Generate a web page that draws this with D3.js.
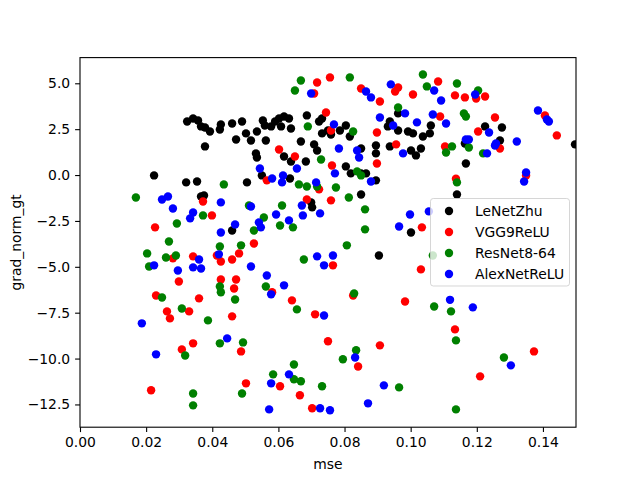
<!DOCTYPE html>
<html>
<head>
<meta charset="utf-8">
<script src="https://cdn.jsdelivr.net/npm/d3@7"></script>
<style>
  body { margin: 0; background: #fff; }
  svg { font-family: "DejaVu Sans", sans-serif; }
</style>
</head>
<body>
<script>
// Data: [mse, grad_norm_gt] per model
const seriesNames = ["LeNetZhu", "VGG9ReLU", "ResNet8-64", "AlexNetReLU"];
const seriesColors = ["#000000", "#ff0000", "#008000", "#0000ff"];

const lenetZhu = [
  [0.0324, 2.92], [0.0342, 3.08], [0.0357, 2.97], [0.0366, 2.65], [0.0378, 1.56], [0.0224, -0.02], [0.0321, -0.40], [0.0354, -0.35], [0.0366, -1.17], [0.0378, 2.59],
  [0.0393, 2.37], [0.0423, 2.48], [0.0426, 2.76], [0.0460, 2.81], [0.0490, 2.92], [0.0472, 1.94], [0.0502, 2.27], [0.0517, 1.88], [0.0535, 2.37], [0.0553, 2.97],
  [0.0559, 2.70], [0.0562, 1.88], [0.0578, 2.65], [0.0590, 2.92], [0.0602, 3.08], [0.0617, 3.19], [0.0632, 3.08], [0.0638, 2.54], [0.0608, 2.65], [0.0532, 1.18],
  [0.0535, 0.96], [0.0668, 1.83], [0.0686, 3.25], [0.0708, 1.67], [0.0717, 1.34], [0.0723, 2.92], [0.0732, 3.08], [0.0732, 2.27], [0.0750, 2.43], [0.0759, 2.21],
  [0.0617, 1.01], [0.0638, 0.74], [0.0683, 0.74], [0.0550, -0.02], [0.0635, -0.19], [0.0505, -0.40], [0.0786, 2.43], [0.0804, 2.70], [0.0816, 2.10], [0.0850, 1.45],
  [0.0895, 1.61], [0.0895, 1.18], [0.0937, 1.56], [0.0937, 2.92], [0.0931, 2.65], [0.0962, 3.36], [0.0962, 2.43], [0.0992, 2.37], [0.1007, 2.27], [0.1001, 1.34],
  [0.1016, 1.07], [0.1031, 1.45], [0.1037, 2.10], [0.1058, 2.27], [0.1061, 2.70], [0.0804, 0.47], [0.0819, 0.09], [0.0850, 0.09], [0.0865, 0.09], [0.0895, -0.29],
  [0.1225, 2.65], [0.1276, 2.59], [0.1270, 1.88], [0.1164, 1.72], [0.1167, 0.63], [0.1497, 1.67], [0.0375, -1.11], [0.0702, -1.76], [0.0699, -1.49], [0.0460, -3.02],
  [0.0850, -1.06], [0.1001, -3.13], [0.0904, -4.38], [0.1140, -1.06]
];

const vgg9ReLU = [
  [0.0717, 5.04], [0.0708, 4.44], [0.0744, 3.41], [0.0602, 1.39], [0.0650, 1.01], [0.0565, -0.29], [0.0756, 5.32], [0.0850, 4.72], [0.0962, 4.77], [0.0953, 4.55],
  [0.0907, 4.01], [0.1007, 4.39], [0.1083, 5.10], [0.1089, 3.19], [0.0759, 2.43], [0.0898, 2.32], [0.0956, 1.67], [0.0898, 0.63], [0.1104, 1.56], [0.0762, 0.52],
  [0.1134, 4.34], [0.1164, 4.23], [0.1198, 4.17], [0.1225, 4.28], [0.1255, 3.14], [0.1204, 2.37], [0.1270, 1.45], [0.1406, 3.25], [0.1442, 2.16], [0.1137, -0.20],
  [0.1349, -0.02], [0.0227, -2.85], [0.0281, -4.54], [0.0342, -4.43], [0.0299, -5.80], [0.0230, -6.56], [0.0360, -6.72], [0.0372, -1.44], [0.0399, -2.20], [0.0686, -1.33],
  [0.0723, -0.78], [0.0526, -3.73], [0.0481, -4.27], [0.0460, -4.60], [0.0426, -4.71], [0.0414, -4.38], [0.0426, -5.69], [0.0472, -5.69], [0.0466, -6.18], [0.0581, -6.39],
  [0.0641, -6.83], [0.0759, -1.38], [0.1034, -2.85], [0.0765, -4.92], [0.1031, -5.14], [0.0983, -6.89], [0.0826, -6.56], [0.0263, -7.43], [0.0272, -7.81], [0.0330, -7.43],
  [0.0342, -9.17], [0.0308, -9.50], [0.0215, -11.73], [0.0460, -7.70], [0.0487, -9.61], [0.0750, -9.06], [0.0711, -7.59], [0.0502, -11.35], [0.0605, -11.51], [0.0665, -12.00],
  [0.0702, -12.71], [0.0907, -9.28], [0.0841, -10.43], [0.1134, -8.41], [0.1373, -9.61], [0.1210, -10.97]
];

const resNet864 = [
  [0.0668, 5.15], [0.0650, 4.61], [0.0689, 2.65], [0.0729, 0.85], [0.0816, 5.32], [0.1037, 5.48], [0.1049, 4.83], [0.0962, 3.68], [0.0826, 2.37], [0.0838, 0.20],
  [0.0850, -0.02], [0.1107, 1.23], [0.1140, 4.99], [0.1204, 4.61], [0.1161, 3.36], [0.1167, 3.19], [0.1125, 1.56], [0.1176, 1.50], [0.1219, 1.18], [0.1140, -0.40],
  [0.0169, -1.22], [0.0293, -2.64], [0.0269, -3.62], [0.0203, -4.27], [0.0260, -4.49], [0.0290, -4.38], [0.0209, -4.98], [0.0248, -6.67], [0.0372, -2.20], [0.0308, -7.27],
  [0.0435, -0.51], [0.0662, -0.51], [0.0686, -0.62], [0.0717, -0.62], [0.0611, -1.66], [0.0556, -2.31], [0.0605, -2.75], [0.0644, -2.85], [0.0526, -3.02], [0.0487, -3.83],
  [0.0423, -3.89], [0.0677, -4.60], [0.0423, -6.07], [0.0426, -6.39], [0.0562, -6.07], [0.0469, -6.78], [0.0511, -1.66], [0.0774, -0.68], [0.0813, -1.22], [0.0862, -1.87],
  [0.0862, -2.96], [0.0807, -3.83], [0.0829, -6.45], [0.1071, -7.16], [0.1067, -4.38], [0.0318, -9.83], [0.0342, -11.90], [0.0342, -12.55], [0.0387, -7.92], [0.0423, -9.17],
  [0.0493, -9.12], [0.0656, -7.32], [0.0490, -11.90], [0.0647, -10.32], [0.0584, -10.86], [0.0647, -11.13], [0.0668, -11.24], [0.0732, -11.51], [0.1122, -7.43], [0.0835, -9.55],
  [0.0795, -10.04], [0.0965, -11.57], [0.1137, -9.01], [0.1282, -9.94], [0.1137, -12.77]
];

const alexNetReLU = [
  [0.0699, 4.44], [0.0544, 0.36], [0.0581, -0.19], [0.0614, -0.02], [0.0656, 0.36], [0.0714, -0.40], [0.0768, 2.76], [0.0940, 4.94], [0.0865, 4.55], [0.0880, 4.23],
  [0.1071, 4.61], [0.1092, 4.06], [0.0907, 3.14], [0.0983, 3.36], [0.1019, 2.87], [0.1067, 3.30], [0.1107, 2.81], [0.0947, 2.70], [0.0783, 1.45], [0.0838, 1.34],
  [0.0844, 0.96], [0.0977, 1.18], [0.0771, 0.09], [0.0880, -0.35], [0.1195, 4.39], [0.1385, 3.52], [0.1412, 3.03], [0.1418, 2.92], [0.1237, 2.32], [0.1167, 1.94],
  [0.1176, 1.94], [0.1321, 1.83], [0.1258, 1.72], [0.1255, 1.61], [0.1231, 1.18], [0.1349, 0.14], [0.1343, -0.35], [0.0248, -1.33], [0.0266, -1.17], [0.0281, -1.82],
  [0.0342, -2.04], [0.0333, -2.36], [0.0224, -4.92], [0.0296, -5.20], [0.0342, -5.03], [0.0360, -4.60], [0.0366, -5.09], [0.0426, -1.49], [0.0517, -1.71], [0.0469, -2.69],
  [0.0426, -3.13], [0.0541, -2.58], [0.0547, -2.85], [0.0593, -2.15], [0.0632, -2.47], [0.0671, -1.66], [0.0674, -2.20], [0.0726, -2.09], [0.0420, -4.32], [0.0517, -4.98],
  [0.0565, -5.47], [0.0617, -6.01], [0.0578, -6.50], [0.0717, -4.43], [0.0738, -4.92], [0.0611, -0.40], [0.0998, -2.15], [0.1055, -1.98], [0.0965, -2.80], [0.0765, -4.38],
  [0.1119, -6.80], [0.1188, -7.21], [0.0187, -8.08], [0.0230, -9.77], [0.0445, -8.90], [0.0738, -7.65], [0.0632, -10.86], [0.0578, -11.35], [0.0572, -12.77], [0.0726, -12.71],
  [0.0756, -12.82], [0.0832, -9.94], [0.0919, -11.46], [0.0871, -12.44], [0.1303, -10.37]
];

const xTicks = [0.00, 0.02, 0.04, 0.06, 0.08, 0.10, 0.12, 0.14];
const yTicks = [-12.5, -10.0, -7.5, -5.0, -2.5, 0.0, 2.5, 5.0];

function opretScatterplot() {
  const width = 640, height = 480;
  const margin = { top: 57.6, right: 64, bottom: 52.8, left: 80 };
  const fontSize = 13.9;

  const svg = d3.select("body").append("svg")
    .attr("width", width)
    .attr("height", height);

  svg.append("rect").attr("width", width).attr("height", height).attr("fill", "#fff");

  const x = d3.scaleLinear().domain([0, 0.15]).range([margin.left, width - margin.right]);
  const y = d3.scaleLinear().domain([-13.74, 6.40]).range([height - margin.bottom, margin.top]);

  svg.append("clipPath").attr("id", "plotClip")
    .append("rect")
    .attr("x", margin.left).attr("y", margin.top)
    .attr("width", width - margin.left - margin.right)
    .attr("height", height - margin.top - margin.bottom);

  // punkter, tegnet i samme raekkefoelge som originalen
  const allSeries = [lenetZhu, vgg9ReLU, resNet864, alexNetReLU];
  const points = svg.append("g").attr("clip-path", "url(#plotClip)");
  allSeries.forEach((serie, i) => {
    points.append("g").selectAll("circle")
      .data(serie)
      .enter().append("circle")
      .attr("cx", d => x(d[0]))
      .attr("cy", d => y(d[1]))
      .attr("r", 4.2)
      .attr("fill", seriesColors[i]);
  });

  // akser
  const xAxis = svg.append("g")
    .attr("transform", `translate(0,${height - margin.bottom})`)
    .call(d3.axisBottom(x).tickValues(xTicks).tickFormat(d3.format(".2f")).tickSize(4.9).tickPadding(4.9).tickSizeOuter(0));
  const yAxis = svg.append("g")
    .attr("transform", `translate(${margin.left},0)`)
    .call(d3.axisLeft(y).tickValues(yTicks).tickFormat(d3.format(".1f")).tickSize(4.9).tickPadding(4.9).tickSizeOuter(0));

  [xAxis, yAxis].forEach(ax => {
    ax.select(".domain").remove();
    ax.selectAll("line").attr("stroke", "#000").attr("stroke-width", 1.1);
    ax.selectAll("text").attr("fill", "#000").style("font-size", fontSize + "px").style("font-family", "DejaVu Sans");
  });

  svg.append("rect")
    .attr("x", margin.left).attr("y", margin.top)
    .attr("width", width - margin.left - margin.right)
    .attr("height", height - margin.top - margin.bottom)
    .attr("fill", "none")
    .attr("stroke", "#000")
    .attr("stroke-width", 1.1);

  svg.append("text")
    .attr("x", (margin.left + width - margin.right) / 2)
    .attr("y", 469)
    .attr("text-anchor", "middle")
    .style("font-size", fontSize + "px")
    .text("mse");

  svg.append("text")
    .attr("transform", `translate(21,${(margin.top + height - margin.bottom) / 2}) rotate(-90)`)
    .attr("text-anchor", "middle")
    .style("font-size", fontSize + "px")
    .text("grad_norm_gt");

  // forklaring
  const legend = svg.append("g");
  legend.append("rect")
    .attr("x", 430.5).attr("y", 198.5)
    .attr("width", 139).attr("height", 87.5)
    .attr("rx", 2.8)
    .attr("fill", "#fff").attr("fill-opacity", 0.8)
    .attr("stroke", "#ccc").attr("stroke-opacity", 0.8);

  seriesNames.forEach((navn, i) => {
    const ly = 211 + i * 21;
    legend.append("circle")
      .attr("cx", 449).attr("cy", ly).attr("r", 4.2)
      .attr("fill", seriesColors[i]);
    legend.append("text")
      .attr("x", 475).attr("y", ly)
      .attr("dy", "0.36em")
      .style("font-size", fontSize + "px")
      .text(navn);
  });
}

opretScatterplot();
</script>
</body>
</html>
